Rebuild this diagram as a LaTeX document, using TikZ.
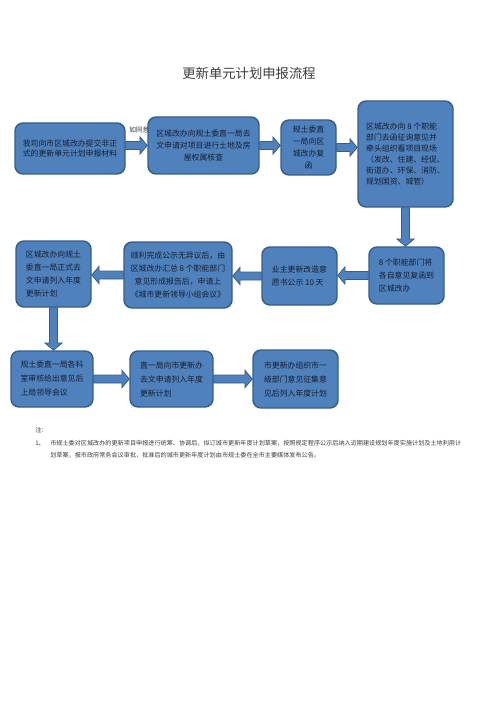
\documentclass[tikz,border=0pt]{standalone}
\usepackage{fontspec}
\setmainfont{Noto Sans CJK SC}
\usetikzlibrary{calc}
\definecolor{boxfill}{RGB}{79,129,189}
\definecolor{boxline}{RGB}{56,93,138}
\definecolor{txt}{RGB}{22,30,48}
\definecolor{notetxt}{RGB}{60,60,60}
\tikzset{
  box/.style={draw=boxline, fill=boxfill, line width=1.1pt, rounded corners=6pt,
    inner sep=0pt, text=txt, font=\fontsize{5.9}{7.6}\selectfont},
  arrowstyle/.style={draw=boxline, fill=boxfill, line width=0.6pt, line join=miter},
  notestyle/.style={inner sep=0pt, anchor=west, text=notetxt, font=\fontsize{4.6}{6}\selectfont}
}
\newcommand\barrow[2]{%
  \coordinate (as) at (#1);
  \coordinate (ae) at (#2);
  \coordinate (ah) at ($(ae)!5.5pt!(as)$);
  \filldraw[arrowstyle] ($(as)!3pt!90:(ae)$) -- ($(ah)!3pt!-90:(as)$) -- ($(ah)!6.5pt!-90:(as)$) -- (ae)
    -- ($(ah)!6.5pt!90:(as)$) -- ($(ah)!3pt!90:(as)$) -- ($(as)!3pt!-90:(ae)$) -- cycle;}
\begin{document}
\begin{tikzpicture}[x=0.75pt, y=-0.75pt]
\useasboundingbox[fill=white] (0,0) rectangle (496,702);

\node[text=notetxt, inner sep=0pt, font=\fontsize{10}{12}\selectfont] (title) at (249,73) {更新单元计划申报流程};

\node[notestyle, font=\fontsize{5}{5}\selectfont] (agree) at (129,130) {如同意};

\node[box, minimum width=82.5pt, minimum height=38.25pt, align=center] (b1) at (70,148.5)
  {我司向市区城改办提交非正\\式的更新单元计划申报材料};
\node[box, minimum width=83.25pt, minimum height=42.75pt, align=center, font=\fontsize{5.9}{9.3}\selectfont] (b2) at (203.5,145.5)
  {区城改办向规土委直一局去\\文申请对项目进行土地及房\\屋权属核查};
\node[box, minimum width=41.25pt, minimum height=41.25pt, align=center, font=\fontsize{5.9}{8.8}\selectfont] (b3) at (308.5,147.5)
  {规土委直\\一局向区\\城改办复\\函};
\node[box, minimum width=71.25pt, minimum height=79.5pt, align=left, font=\fontsize{5.9}{8.2}\selectfont] (b4) at (405.5,154)
  {区城改办向 8 个职能\\部门去函征询意见并\\牵头组织看项目现场\\（发改、住建、经促、\\街道办、环保、消防、\\规划国资、城管）};
\node[box, minimum width=56.25pt, minimum height=42.75pt, align=left, font=\fontsize{5.9}{10}\selectfont] (b5) at (406.5,275.5)
  {8 个职能部门将\\各自意见复函到\\区城改办};
\node[box, minimum width=56.25pt, minimum height=43.5pt, align=left, font=\fontsize{5.9}{10}\selectfont] (b6) at (299.5,276)
  {业主更新改造意\\愿书公示 10 天};
\node[box, minimum width=81pt, minimum height=49.5pt, align=center, font=\fontsize{5.9}{9.7}\selectfont] (b7) at (178,275)
  {顺利完成公示无异议后，由\\区城改办汇总 8 个职能部门\\意见形成报告后，申请上\\《城市更新领导小组会议》};
\node[box, minimum width=56.25pt, minimum height=49.5pt, align=left, font=\fontsize{5.9}{9.7}\selectfont] (b8) at (53.5,274)
  {区城改办向规土\\委直一局正式去\\文申请列入年度\\更新计划};
\node[box, minimum width=61.5pt, minimum height=42pt, align=left, font=\fontsize{5.9}{10.5}\selectfont] (b9) at (52,379)
  {规土委直一局各科\\室审核给出意见后\\上局领导会议};
\node[box, minimum width=62.25pt, minimum height=42pt, align=left, font=\fontsize{5.9}{10.5}\selectfont] (b10) at (171.5,379)
  {直一局向市更新办\\去文申请列入年度\\更新计划};
\node[box, minimum width=63.75pt, minimum height=43.5pt, align=left, font=\fontsize{5.9}{10.5}\selectfont] (b11) at (295.5,379)
  {市更新办组织市一\\级部门意见征集意\\见后列入年度计划};

\barrow{b1.east |- b2.west}{b2.west}
\barrow{b2.east}{b2.east -| b3.west}
\barrow{b3.east}{b3.east -| b4.west}
\barrow{b4.south}{b4.south |- b5.north}
\barrow{b5.west}{b5.west -| b6.east}
\barrow{b6.west}{b6.west -| b7.east}
\barrow{b7.west}{b7.west -| b8.east}
\barrow{b8.south}{b8.south |- b9.north}
\barrow{b9.east}{b9.east -| b10.west}
\barrow{b10.east}{b10.east -| b11.west}

\node[notestyle] (n0) at (35,430) {注：};
\node[notestyle] (n1) at (35,443) {1、};
\node[notestyle] (n2) at (50,443) {市规土委对区城改办的更新项目申报进行统筹、协调后，拟订城市更新年度计划草案，按照规定程序公示后纳入近期建设规划年度实施计划及土地利用计};
\node[notestyle] (n3) at (50,455) {划草案，报市政府常务会议审批，批准后的城市更新年度计划由市规土委在全市主要媒体发布公告。};
\end{tikzpicture}
\end{document}
